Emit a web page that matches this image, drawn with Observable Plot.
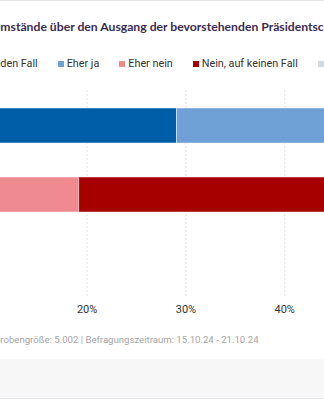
<!DOCTYPE html>
<html>
<head>
<meta charset="utf-8">
<script src="https://cdn.jsdelivr.net/npm/d3@7"></script>
<script src="https://cdn.jsdelivr.net/npm/@observablehq/plot@0.6"></script>
<style>
  html, body { margin: 0; padding: 0; overflow: hidden; background: #fff; }
  #view { position: relative; width: 324px; height: 400px; overflow: hidden; background: #fff; font-family: Roboto, sans-serif; }
  #topline { position: absolute; left: 0; top: 0; width: 324px; height: 1px; background: #e6e6e6; }
  .row { position: absolute; white-space: nowrap; }
  #title { top: 18px; font-family: Lato, sans-serif; font-weight: 700; font-size: 12.2px; color: #3b2b4f; line-height: 18px; }
  #legend { top: 56px; font-size: 10.8px; color: #333; line-height: 16px; display: flex; align-items: center; }
  .item { display: inline-flex; align-items: center; margin-right: 20px; }
  .sw { width: 6px; height: 6px; margin-right: 3px; display: inline-block; }
  #chart { position: absolute; top: 80px; width: 1147px; }
  #chart svg { max-width: none !important; width: 1147px; height: 248px; }
  #caption { top: 332px; font-size: 9.6px; color: #a6a6a6; line-height: 16px; }
  #band { position: absolute; left: 0; top: 359px; width: 324px; height: 39px; background: #f7f7f7; border-bottom: 1.5px solid #e4e7ec; }
</style>
</head>
<body>
<div id="view">
  <div id="topline"></div>
  <div id="title" class="row"></div>
  <div id="legend" class="row"></div>
  <div id="chart"></div>
  <div id="caption" class="row"></div>
  <div id="band"></div>
</div>
<script>
// ---- data ----
const titlePrefix = "Erwartete Akzeptanz der U";
const titleRest = "mstände über den Ausgang der bevorstehenden Präsidentschaftswahl in den USA";
const captionPrefix = "Stichp";
const captionRest = "robengröße: 5.002 | Befragungszeitraum: 15.10.24 - 21.10.24";
const groups = ["Harris-Wähler", "Trump-Wähler"];
const answers = ["Ja, auf jeden Fall", "Eher ja", "Eher nein", "Nein, auf keinen Fall", "Weiß nicht"];
const jaAufJedenFall = [29.1, 3.0];
const eherJa = [27.0, 6.0];
const eherNein = [13.0, 10.2];
const neinAufKeinenFall = [12.0, 55.0];
const weissNicht = [18.9, 25.8];
const xTicks = [0, 10, 20, 30, 40, 50, 60, 70, 80, 90, 100];

const series = [jaAufJedenFall, eherJa, eherNein, neinAufKeinenFall, weissNicht];
const data = [];
groups.forEach((g, i) => answers.forEach((a, j) => data.push({group: g, answer: a, value: series[j][i]})));

const colors = ["#005ea8", "#6fa0d6", "#f08a91", "#a60000", "#d3d9e1"];

// ---- hidden offset (the view is a crop of a wider chart) ----
const L = 250;

// title
const title = document.getElementById("title");
title.innerHTML = `<span id="tpre">${titlePrefix}</span>${titleRest}`;

// legend
const legend = document.getElementById("legend");
answers.forEach((a, j) => {
  const it = document.createElement("span");
  it.className = "item";
  if (j === 0) {
    it.innerHTML = `<span id="lpre"><span class="sw" style="background:${colors[j]}"></span>Ja, auf je</span>den Fall`;
  } else {
    it.innerHTML = `<span class="sw" style="background:${colors[j]}"></span>${a}`;
  }
  legend.appendChild(it);
});

// caption
const caption = document.getElementById("caption");
caption.innerHTML = `<span id="cpre">${captionPrefix}</span>${captionRest}`;

// chart
const chart = Plot.plot({
  width: 1147,
  height: 248,
  marginLeft: 139,
  marginRight: 20,
  marginTop: 10,
  marginBottom: 30,
  style: {fontFamily: "Roboto, sans-serif", fontSize: "11px", color: "#333", background: "transparent", maxWidth: "none"},
  x: {domain: [0, 100], ticks: xTicks, tickFormat: d => d + "%", tickSize: 0, tickPadding: 7, label: null},
  y: {domain: groups, range: [10, 148.6], paddingInner: 0.5, paddingOuter: 0.25, axis: null},
  color: {domain: answers, range: colors},
  marks: [
    Plot.ruleX(xTicks, {stroke: "#e4e4e4", strokeDasharray: "2,2"}),
    Plot.barX(data, Plot.stackX({x: "value", y: "group", fill: "answer", order: answers, stroke: "white", strokeOpacity: 0.45, strokeWidth: 1}))
  ]
});
const chartDiv = document.getElementById("chart");
chartDiv.appendChild(chart);
chartDiv.style.left = (-L) + "px";

// align crops
title.style.left = (0.3 - document.getElementById("tpre").getBoundingClientRect().width) + "px";
legend.style.left = (0.3 - document.getElementById("lpre").getBoundingClientRect().width) + "px";
caption.style.left = (0.3 - document.getElementById("cpre").getBoundingClientRect().width) + "px";
</script>
</body>
</html>
